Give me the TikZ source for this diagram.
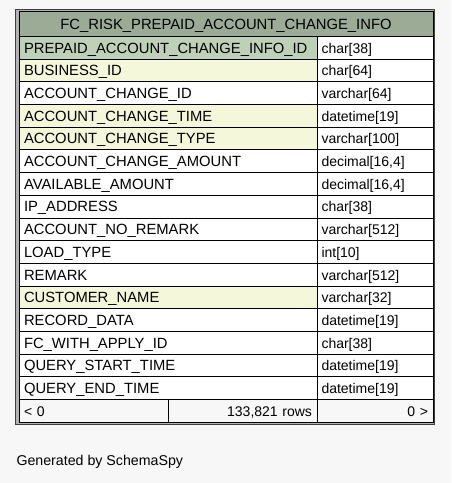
\documentclass[tikz,border=0pt]{standalone}
\usepackage{fontspec}
\setmainfont{Liberation Sans}
\usetikzlibrary{positioning}
\definecolor{pagebg}{HTML}{F7F7F7}
\definecolor{headbg}{HTML}{9BAB96}
\definecolor{keybg}{HTML}{BED1B8}
\definecolor{indexbg}{HTML}{F4F7DA}
\begin{document}
\begin{tikzpicture}[
        x=1pt, y=-1pt,
        every node/.style={inner sep=0pt, outer sep=0pt, text height=10.6pt, text depth=0pt,
                           font=\fontsize{14.8}{17}\selectfont},
        cell/.style = {draw, line width=1pt,
                       minimum height=22.69pt,
                       anchor=north west},
        namecell/.style = {cell, inner xsep=5pt, text width=288.5pt, align=left},
        typecell/.style = {cell, fill=white, inner xsep=4pt, text width=107.5pt,
                           align=left, font=\fontsize{14}{17}\selectfont},
        footcell/.style = {cell, fill=pagebg, minimum height=23pt,
                           font=\fontsize{14}{17}\selectfont}
        ]
        \useasboundingbox[fill=pagebg] (0,0) rectangle (451,483);
        % table frame
        \draw[black!75, line width=1pt, fill=gray!60] (15.5,9.5) rectangle (434.5,424.5);
        \node[cell, fill=headbg, minimum width=414pt, minimum height=25.5pt] (title) at (19,11)
            {FC\_RISK\_PREPAID\_ACCOUNT\_CHANGE\_INFO};
        % columns
        \foreach \colname/\coltype/\colfill [count=\i] in {
                PREPAID\_ACCOUNT\_CHANGE\_INFO\_ID/char[38]/keybg,
                BUSINESS\_ID/char[64]/indexbg,
                ACCOUNT\_CHANGE\_ID/varchar[64]/white,
                ACCOUNT\_CHANGE\_TIME/datetime[19]/indexbg,
                ACCOUNT\_CHANGE\_TYPE/varchar[100]/indexbg,
                ACCOUNT\_CHANGE\_AMOUNT/{decimal[16,4]}/white,
                AVAILABLE\_AMOUNT/{decimal[16,4]}/white,
                IP\_ADDRESS/char[38]/white,
                ACCOUNT\_NO\_REMARK/varchar[512]/white,
                LOAD\_TYPE/int[10]/white,
                REMARK/varchar[512]/white,
                CUSTOMER\_NAME/varchar[32]/indexbg,
                RECORD\_DATA/datetime[19]/white,
                FC\_WITH\_APPLY\_ID/char[38]/white,
                QUERY\_START\_TIME/datetime[19]/white,
                QUERY\_END\_TIME/datetime[19]/white} {
            \pgfmathsetmacro\rowy{36.5+(\i-1)*22.69}
            \node[namecell, fill=\colfill] (name\i) at (19,\rowy) {\colname};
            \node[typecell] (type\i) at (name\i.north east) {\coltype};
        }
        % footer
        \node[footcell, inner xsep=5pt, text width=139.5pt, align=left] (prev) at (19,399.5) {< 0};
        \node[footcell, inner xsep=5.5pt, text width=138pt, align=right] (rowcount) at (prev.north east) {133,821 rows};
        \node[footcell, inner xsep=5pt, text width=105.5pt, align=right] (next) at (rowcount.north east) {0 >};
        \node[anchor=west, text height=10.3pt, font=\fontsize{14.2}{17}\selectfont] (credit) at (16.5,460)
            {Generated by SchemaSpy};
\end{tikzpicture}
\end{document}
